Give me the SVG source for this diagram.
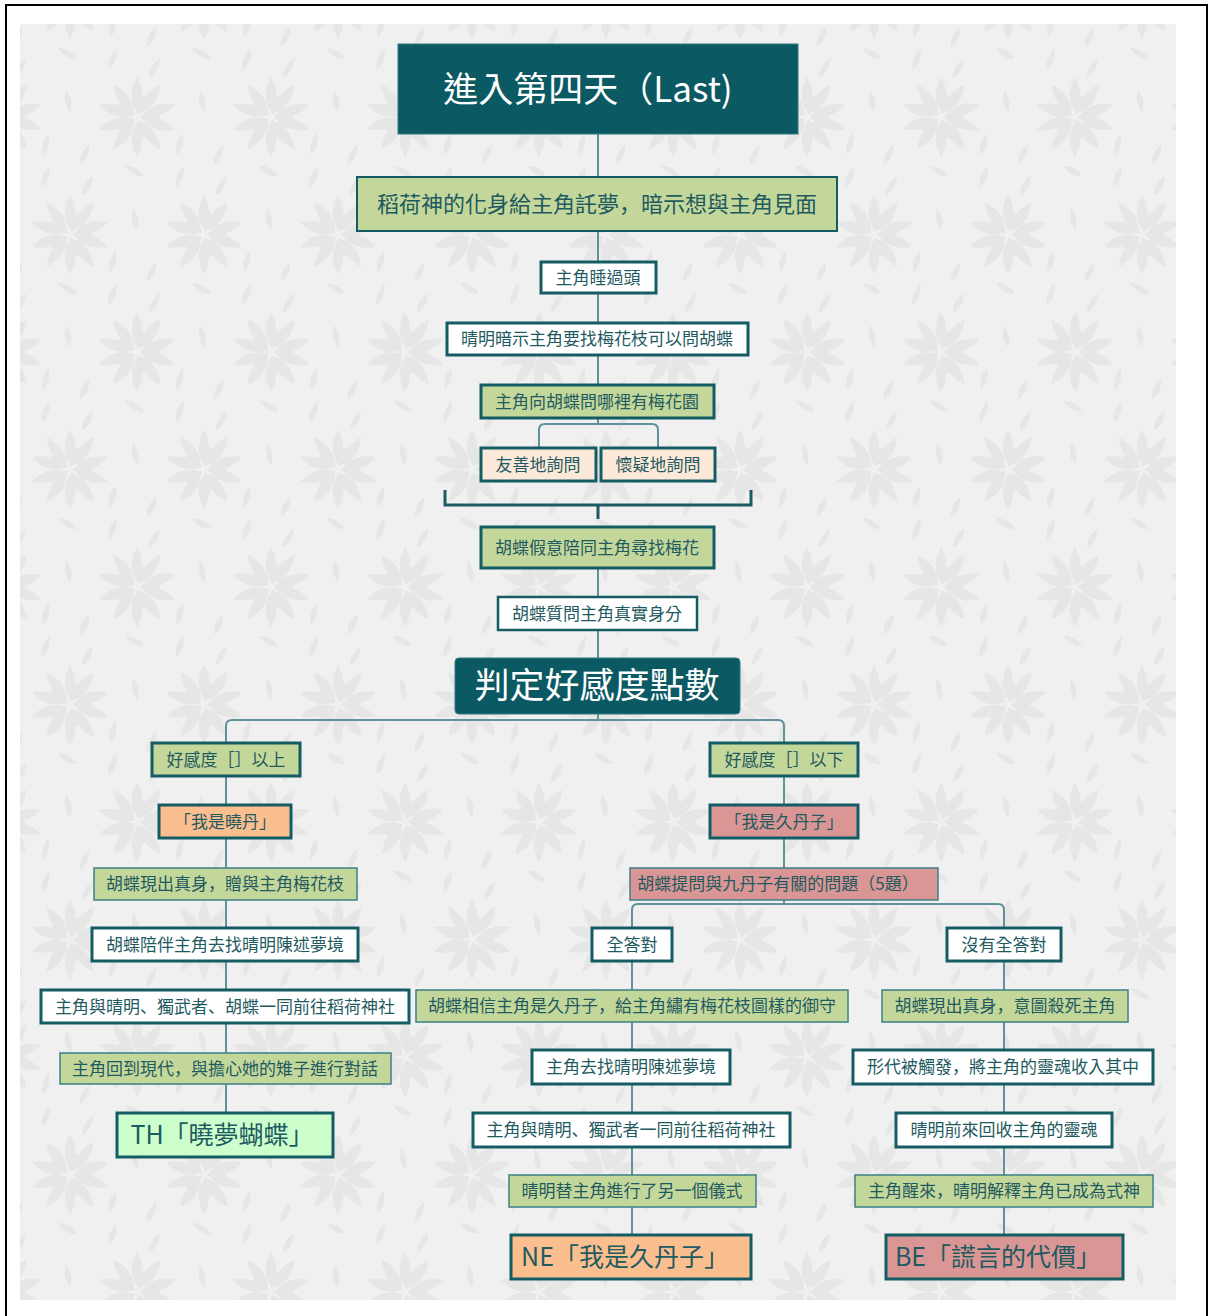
<svg xmlns="http://www.w3.org/2000/svg" width="1210" height="1316" viewBox="0 0 1210 1316">
<defs>
<style>
.n rect{stroke:#145c63;stroke-width:3}
.n.thin rect{stroke:#3d8087;stroke-width:1.5}
.n text{font-family:"Noto Sans CJK TC","Noto Sans CJK SC",sans-serif;font-size:17px;fill:#1e5a60;text-anchor:middle}
.p{font-family:"Noto Sans CJK SC",sans-serif}
.g rect{fill:#c4d79b}
.w rect{fill:#ffffff}
.pe rect{fill:#fde9d9}
.or rect{fill:#fbbf8f}
.pk rect{fill:#d99694}
.lg rect{fill:#ccffcc}
.big text{font-size:25px}
.dk rect{fill:#0b5963;stroke:#2f7a82;stroke-width:1}
.dk text{fill:#ffffff;font-size:35px}
#connectors path{fill:none;stroke:#5f9299;stroke-width:2}
#connectors path.br{stroke:#1e5a62;stroke-width:3}
</style>
<path id="pt" d="M0,-6 C7,-14 7,-28 0,-40 C-7,-28 -7,-14 0,-6Z"/>
<path id="pi" d="M0,-3 C5,-8 5,-16 0,-23 C-5,-16 -5,-8 0,-3Z"/>
<path id="lf" d="M0,0 C4,-6 4,-14 0,-22 C-4,-14 -4,-6 0,0Z"/>
<g id="fl" fill="#e6e6e6">
<use href="#pt" transform="rotate(0)"/><use href="#pt" transform="rotate(36)"/><use href="#pt" transform="rotate(72)"/><use href="#pt" transform="rotate(108)"/><use href="#pt" transform="rotate(144)"/><use href="#pt" transform="rotate(180)"/><use href="#pt" transform="rotate(216)"/><use href="#pt" transform="rotate(252)"/><use href="#pt" transform="rotate(288)"/><use href="#pt" transform="rotate(324)"/>
<use href="#pi" transform="rotate(18)"/><use href="#pi" transform="rotate(90)"/><use href="#pi" transform="rotate(162)"/><use href="#pi" transform="rotate(234)"/><use href="#pi" transform="rotate(306)"/>
<use href="#lf" transform="translate(-27,-80) rotate(15)"/>
<use href="#lf" transform="translate(10,-70) rotate(25)"/>
<use href="#lf" transform="translate(-60,-58) rotate(-60)"/>
<use href="#lf" transform="translate(-67,-5) rotate(-10)"/>
<use href="#lf" transform="translate(-95,70) rotate(20)"/>
<use href="#lf" transform="translate(-55,78) rotate(30)"/>
</g>
<pattern id="bg" patternUnits="userSpaceOnUse" x="3" y="117" width="134" height="235">
<rect width="134" height="235" fill="#f0f0f0"/>
<use href="#fl" transform="translate(0,0)"/>
<use href="#fl" transform="translate(134,0)"/>
<use href="#fl" transform="translate(0,235)"/>
<use href="#fl" transform="translate(134,235)"/>
<use href="#fl" transform="translate(67,117.5)"/>
<use href="#fl" transform="translate(67,352.5)"/>
<use href="#fl" transform="translate(-67,117.5)"/>
<use href="#fl" transform="translate(201,117.5)"/>
</pattern>
</defs>
<rect width="1210" height="1316" fill="#ffffff"/>
<rect x="20" y="24" width="1156" height="1276" fill="url(#bg)"/>
<rect x="6" y="5" width="1201" height="1330" fill="none" stroke="#000000" stroke-width="2"/>

<g id="connectors">
<path d="M598,134 V177"/>
<path d="M598,231 V262"/>
<path d="M598,293 V323"/>
<path d="M598,355 V385"/>
<path d="M598,418 V424"/>
<path d="M539,448 V430 Q539,424 545,424 H652 Q658,424 658,430 V448"/>
<path class="br" d="M445,490 V505 H751 V490"/>
<path class="br" d="M598,505 V519"/>
<path d="M598,568 V597"/>
<path d="M598,630 V658"/>
<path d="M598,714 V720"/>
<path d="M226,743 V726 Q226,720 232,720 H778 Q784,720 784,726 V743"/>
<path d="M226,776 V805"/>
<path d="M226,838 V868"/>
<path d="M226,900 V928"/>
<path d="M226,961 V990"/>
<path d="M226,1023 V1053"/>
<path d="M226,1084 V1113"/>
<path d="M784,776 V805"/>
<path d="M784,838 V868"/>
<path d="M784,900 V904"/>
<path d="M632,928 V910 Q632,904 638,904 H998 Q1004,904 1004,910 V928"/>
<path d="M632,961 V990"/>
<path d="M632,1022 V1050"/>
<path d="M632,1084 V1113"/>
<path d="M632,1147 V1175"/>
<path d="M632,1207 V1235"/>
<path d="M1004,961 V990"/>
<path d="M1004,1022 V1050"/>
<path d="M1004,1084 V1113"/>
<path d="M1004,1147 V1175"/>
<path d="M1004,1207 V1235"/>
</g>

<g id="n-root" class="n dk"><rect x="398" y="44" width="400" height="90"/><text x="588" y="102">進入第四天（Last)</text></g>
<g id="n-dream" class="n g"><rect x="357" y="177" width="480" height="54" style="stroke-width:2"/><text x="597" y="212" style="font-size:22px">稻荷神的化身給主角託夢<tspan class="p">，</tspan>暗示想與主角見面</text></g>
<g id="n-oversleep" class="n w"><rect x="541" y="262" width="115" height="31"/><text x="598" y="284">主角睡過頭</text></g>
<g id="n-hint" class="n w"><rect x="447" y="323" width="301" height="32"/><text x="597" y="345">晴明暗示主角要找梅花枝可以問胡蝶</text></g>
<g id="n-ask" class="n g"><rect x="481" y="385" width="233" height="33"/><text x="597" y="408">主角向胡蝶問哪裡有梅花園</text></g>
<g id="n-friendly" class="n pe"><rect x="481" y="448" width="115" height="33"/><text x="538" y="471">友善地詢問</text></g>
<g id="n-suspicious" class="n pe"><rect x="601" y="448" width="114" height="33"/><text x="658" y="471">懷疑地詢問</text></g>
<g id="n-pretend" class="n g"><rect x="481" y="527" width="233" height="41"/><text x="597" y="554">胡蝶假意陪同主角尋找梅花</text></g>
<g id="n-question" class="n w"><rect x="498" y="597" width="199" height="33" style="stroke-width:2.5"/><text x="597" y="620">胡蝶質問主角真實身分</text></g>
<g id="n-judge" class="n dk"><rect x="455" y="658" width="285" height="56" rx="4"/><text x="597" y="698">判定好感度點數</text></g>

<g id="n-above" class="n g"><rect x="152" y="743" width="148" height="33"/><text x="226" y="766">好感度［］以上</text></g>
<g id="n-xiaodan" class="n or"><rect x="159" y="805" width="132" height="33"/><text x="225" y="828">「我是曉丹」</text></g>
<g id="n-gift" class="n g thin"><rect x="94" y="868" width="263" height="32"/><text x="225" y="890">胡蝶現出真身<tspan class="p">，</tspan>贈與主角梅花枝</text></g>
<g id="n-accompany" class="n w"><rect x="92" y="928" width="266" height="33"/><text x="225" y="951">胡蝶陪伴主角去找晴明陳述夢境</text></g>
<g id="n-shrine1" class="n w"><rect x="41" y="990" width="368" height="33"/><text x="225" y="1013">主角與晴明<tspan class="p">、</tspan>獨武者<tspan class="p">、</tspan>胡蝶一同前往稻荷神社</text></g>
<g id="n-return" class="n g thin"><rect x="60" y="1053" width="331" height="31"/><text x="225" y="1075">主角回到現代<tspan class="p">，</tspan>與擔心她的雉子進行對話</text></g>
<g id="n-th" class="n lg big"><rect x="117" y="1113" width="216" height="44"/><text x="222" y="1144">TH「曉夢蝴蝶」</text></g>

<g id="n-below" class="n g"><rect x="710" y="743" width="148" height="33"/><text x="784" y="766">好感度［］以下</text></g>
<g id="n-kunitanko" class="n pk"><rect x="710" y="805" width="148" height="33"/><text x="784" y="828">「我是久丹子」</text></g>
<g id="n-quiz" class="n pk thin"><rect x="630" y="868" width="308" height="32"/><text x="778" y="890">胡蝶提問與九丹子有關的問題（5題）</text></g>
<g id="n-allright" class="n w"><rect x="592" y="928" width="80" height="33"/><text x="632" y="951">全答對</text></g>
<g id="n-notall" class="n w"><rect x="947" y="928" width="114" height="33"/><text x="1004" y="951">沒有全答對</text></g>
<g id="n-believe" class="n g thin"><rect x="416" y="990" width="432" height="32"/><text x="632" y="1012">胡蝶相信主角是久丹子<tspan class="p">，</tspan>給主角繡有梅花枝圖樣的御守</text></g>
<g id="n-tell" class="n w"><rect x="532" y="1050" width="198" height="34"/><text x="631" y="1073">主角去找晴明陳述夢境</text></g>
<g id="n-shrine2" class="n w"><rect x="473" y="1113" width="317" height="34"/><text x="631" y="1136">主角與晴明<tspan class="p">、</tspan>獨武者一同前往稻荷神社</text></g>
<g id="n-ritual" class="n g thin"><rect x="509" y="1175" width="247" height="32"/><text x="632" y="1197">晴明替主角進行了另一個儀式</text></g>
<g id="n-ne" class="n or big"><rect x="511" y="1235" width="240" height="44"/><text x="625" y="1266">NE「我是久丹子」</text></g>
<g id="n-kill" class="n g thin"><rect x="882" y="990" width="246" height="32"/><text x="1005" y="1012">胡蝶現出真身<tspan class="p">，</tspan>意圖殺死主角</text></g>
<g id="n-katashiro" class="n w"><rect x="853" y="1050" width="300" height="34"/><text x="1003" y="1073">形代被觸發<tspan class="p">，</tspan>將主角的靈魂收入其中</text></g>
<g id="n-collect" class="n w"><rect x="896" y="1113" width="216" height="34"/><text x="1004" y="1136">晴明前來回收主角的靈魂</text></g>
<g id="n-shikigami" class="n g thin"><rect x="855" y="1175" width="298" height="32"/><text x="1004" y="1197">主角醒來<tspan class="p">，</tspan>晴明解釋主角已成為式神</text></g>
<g id="n-be" class="n pk big"><rect x="886" y="1235" width="237" height="44"/><text x="998" y="1266">BE「謊言的代價」</text></g>
</svg>
